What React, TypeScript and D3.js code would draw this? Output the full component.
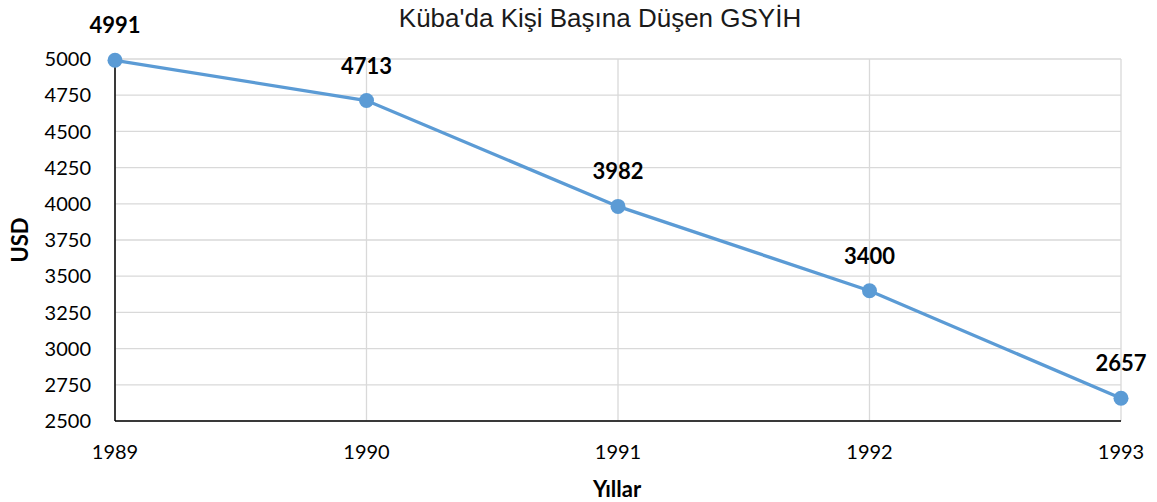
import React from 'react';
import * as d3 from 'd3';

const years = [1989, 1990, 1991, 1992, 1993];
const gdp = [4991, 4713, 3982, 3400, 2657];
const yTicks = [2500, 2750, 3000, 3250, 3500, 3750, 4000, 4250, 4500, 4750, 5000];

const W = 1157;
const H = 502;
const left = 115;
const right = 1121;
const top = 59;
const bottom = 421;

const App = () => {
  const x = d3.scaleLinear().domain([1989, 1993]).range([left, right]);
  const y = d3.scaleLinear().domain([2500, 5000]).range([bottom, top]);

  const line = d3
    .line<number>()
    .x((d, i) => x(years[i]))
    .y((d) => y(d));

  const font = "Lato, Carlito, 'Noto Sans', sans-serif";

  return (
    <svg width={W} height={H} style={{ position: 'absolute', left: 0, top: 0 }}>
      <rect width={W} height={H} fill="#fff" />
      <text
        x={600}
        y={27}
        textAnchor="middle"
        fontFamily="'Liberation Sans', Arial, sans-serif"
        fontSize={26}
        fill="#1a1a1a"
      >
        Küba'da Kişi Başına Düşen GSYİH
      </text>

      {/* grid */}
      {yTicks.map((t) => (
        <line key={'h' + t} x1={left} x2={right} y1={y(t)} y2={y(t)} stroke="#d9d9d9" strokeWidth={1.3} />
      ))}
      {years.map((yr) => (
        <line key={'v' + yr} x1={x(yr)} x2={x(yr)} y1={top} y2={bottom} stroke="#d9d9d9" strokeWidth={1.3} />
      ))}

      {/* axes */}
      <line x1={left} x2={left} y1={top} y2={bottom} stroke="#000" strokeWidth={1.5} />
      <line x1={left} x2={right} y1={bottom} y2={bottom} stroke="#000" strokeWidth={1.5} />

      {yTicks.map((t) => (
        <text
          key={'yl' + t}
          x={91}
          y={y(t)}
          dy="0.36em"
          textAnchor="end"
          fontFamily={font}
          fontSize={20}
          fill="#000"
        >
          {t}
        </text>
      ))}
      {years.map((yr) => (
        <text
          key={'xl' + yr}
          x={x(yr)}
          y={459}
          textAnchor="middle"
          fontFamily={font}
          fontSize={20}
          fill="#000"
        >
          {yr}
        </text>
      ))}

      <text
        x={617}
        y={497}
        textAnchor="middle"
        fontFamily={font}
        fontWeight="bold"
        fontSize={22}
        fill="#000"
      >
        Yıllar
      </text>
      <text
        transform={`translate(28,${(top + bottom) / 2}) rotate(-90)`}
        textAnchor="middle"
        fontFamily={font}
        fontWeight="bold"
        fontSize={22}
        fill="#000"
      >
        USD
      </text>

      <path d={line(gdp) || ''} fill="none" stroke="#5b9bd5" strokeWidth={3.3} />
      {gdp.map((v, i) => (
        <circle key={'c' + i} cx={x(years[i])} cy={y(v)} r={7.5} fill="#5b9bd5" />
      ))}
      {gdp.map((v, i) => (
        <text
          key={'dl' + i}
          x={x(years[i])}
          y={y(v) - 27}
          textAnchor="middle"
          fontFamily={font}
          fontWeight="bold"
          fontSize={22}
          fill="#000"
        >
          {v}
        </text>
      ))}
    </svg>
  );
};

export default App;
